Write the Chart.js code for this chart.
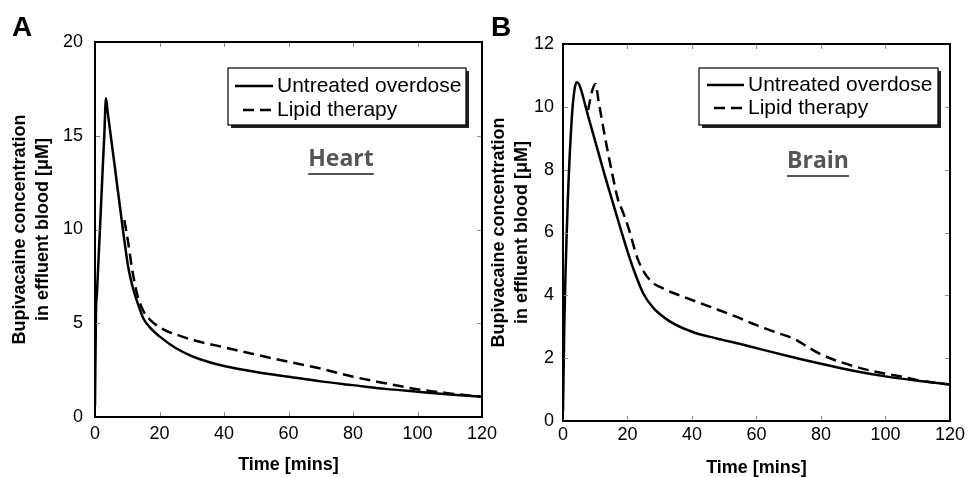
<!DOCTYPE html>
<html>
<head>
<meta charset="utf-8">
<script src="https://cdn.jsdelivr.net/npm/chart.js@4.4.0/dist/chart.umd.min.js"></script>
<style>
body { margin: 0; background: #fff; }
#wrap { position: relative; width: 968px; height: 477px; overflow: hidden; background: #fff; }
canvas { position: absolute; top: 0; }
</style>
</head>
<body>
<div id="wrap">
  <canvas id="heart" width="510" height="477" style="left:0"></canvas>
  <canvas id="brain" width="484" height="477" style="left:484px"></canvas>
</div>
<script>
// time axis ticks (mins)
var timeTicks = [0, 20, 40, 60, 80, 100, 120];
var heartYTicks = [0, 5, 10, 15, 20];
var brainYTicks = [0, 2, 4, 6, 8, 10, 12];

// Heart - untreated overdose
var heartUntreatedT = [0, 0.3, 0.6, 1.5, 2.4, 2.9, 3.4, 3.9, 6.1, 8.8, 10.3, 11.9, 14, 15, 17, 20, 25, 30, 35, 40, 50, 60, 70, 80, 90, 100, 110, 120];
var heartUntreatedY = [0.6, 5.5, 6.6, 9.9, 13.3, 15.1, 17.0, 16.3, 13.4, 9.8, 8.0, 6.8, 5.7, 5.25, 4.78, 4.3, 3.68, 3.25, 2.95, 2.72, 2.4, 2.15, 1.9, 1.7, 1.5, 1.35, 1.2, 1.08];
// Heart - lipid therapy
var heartLipidT = [9.1, 10.3, 11.4, 13, 15, 17, 19, 22, 26, 30, 40, 50, 60, 70, 80, 90, 100, 110, 120];
var heartLipidY = [10.5, 9.3, 8.0, 6.6, 5.65, 5.2, 4.9, 4.6, 4.35, 4.12, 3.72, 3.32, 2.95, 2.58, 2.15, 1.8, 1.48, 1.26, 1.08];

// Brain - untreated overdose
var brainUntreatedT = [0, 0.4, 1.45, 2.7, 3.5, 4.2, 5, 6, 7.8, 10, 13, 15.6, 18.2, 20, 21.8, 24.9, 28, 33, 40, 47.5, 55, 60, 70, 80, 90, 100, 110, 120];
var brainUntreatedY = [0.3, 3.0, 6.9, 9.6, 10.5, 10.78, 10.72, 10.4, 9.7, 8.9, 7.8, 6.9, 6.0, 5.4, 4.85, 4.06, 3.6, 3.18, 2.84, 2.63, 2.45, 2.32, 2.06, 1.82, 1.6, 1.42, 1.28, 1.16];
// Brain - lipid therapy
var brainLipidT = [7.8, 9.0, 10.1, 11, 13, 15, 17.1, 18.2, 20.2, 23.3, 26.9, 31, 37.2, 45.5, 53.7, 60, 66, 72, 76, 80, 90, 100, 104, 110, 120];
var brainLipidY = [9.9, 10.5, 10.73, 10.2, 9.05, 8.0, 7.03, 6.75, 6.18, 5.12, 4.49, 4.22, 3.96, 3.64, 3.32, 3.05, 2.82, 2.6, 2.35, 2.12, 1.75, 1.5, 1.43, 1.3, 1.16];

Chart.defaults.font.family = '"Liberation Sans", Arial, sans-serif';
Chart.defaults.color = '#000';

function pts(t, y) {
  return t.map(function(v, i) { return { x: v, y: y[i] }; });
}

function decoPlugin(o) {
  return {
    id: 'deco',
    afterDatasetsDraw: function(chart) {
      var ctx = chart.ctx, a = chart.chartArea;
      var xs = chart.scales.x, ys = chart.scales.y;
      ctx.save();
      // inward tick marks on all four sides
      ctx.strokeStyle = '#8a8a8a';
      ctx.lineWidth = 1;
      ctx.beginPath();
      xs.ticks.forEach(function(t) {
        var px = Math.round(xs.getPixelForValue(t.value)) + 0.5;
        ctx.moveTo(px, a.bottom); ctx.lineTo(px, a.bottom - 5);
        ctx.moveTo(px, a.top); ctx.lineTo(px, a.top + 5);
      });
      ys.ticks.forEach(function(t) {
        var py = Math.round(ys.getPixelForValue(t.value)) + 0.5;
        ctx.moveTo(a.left, py); ctx.lineTo(a.left + 5, py);
        ctx.moveTo(a.right, py); ctx.lineTo(a.right - 5, py);
      });
      ctx.stroke();
      // frame
      ctx.strokeStyle = '#000';
      ctx.lineWidth = 2;
      ctx.strokeRect(a.left, a.top, a.right - a.left, a.bottom - a.top);

      // legend box with shadow
      var L = o.legend;
      ctx.fillStyle = '#222';
      ctx.fillRect(L.x + 3, L.y + 3, L.w, L.h);
      ctx.fillStyle = '#fff';
      ctx.fillRect(L.x, L.y, L.w, L.h);
      ctx.strokeStyle = '#000';
      ctx.lineWidth = 1.2;
      ctx.strokeRect(L.x, L.y, L.w, L.h);
      ctx.font = '21px "Liberation Sans", Arial, sans-serif';
      ctx.textBaseline = 'middle';
      ctx.textAlign = 'left';
      chart.data.datasets.forEach(function(ds, i) {
        var y = L.rowY[i];
        ctx.strokeStyle = '#000';
        ctx.lineWidth = 2.5;
        ctx.setLineDash(ds.borderDash || []);
        ctx.beginPath();
        ctx.moveTo(L.lineX[i][0], y);
        ctx.lineTo(L.lineX[i][1], y);
        ctx.stroke();
        ctx.setLineDash([]);
        ctx.fillStyle = '#000';
        ctx.fillText(ds.label, L.textX, y);
      });

      // organ label, underlined
      ctx.font = 'bold 23px "Open Sans", Lato, sans-serif';
      ctx.fillStyle = '#555';
      ctx.textAlign = 'center';
      ctx.textBaseline = 'alphabetic';
      ctx.fillText(o.organ, o.organX, o.organY);
      var w = ctx.measureText(o.organ).width;
      ctx.fillRect(o.organX - w / 2, o.organY + 7, w, 2);

      // panel letter
      ctx.font = 'bold 28px "Liberation Sans", Arial, sans-serif';
      ctx.fillStyle = '#000';
      ctx.textAlign = 'left';
      ctx.fillText(o.letter, o.letterX, o.letterY);
      ctx.restore();
    }
  };
}

function makeChart(id, d) {
  return new Chart(document.getElementById(id), {
    type: 'line',
    data: {
      datasets: [
        {
          label: 'Untreated overdose',
          data: pts(d.uT, d.uY),
          borderColor: '#000',
          borderWidth: 2.5,
          pointRadius: 0,
          cubicInterpolationMode: 'monotone',
          fill: false
        },
        {
          label: 'Lipid therapy',
          data: pts(d.lT, d.lY),
          borderColor: '#000',
          borderWidth: 2.5,
          borderDash: [11, 6],
          pointRadius: 0,
          cubicInterpolationMode: 'monotone',
          fill: false
        }
      ]
    },
    options: {
      responsive: false,
      animation: false,
      layout: { padding: { top: d.top, right: d.right, left: 0, bottom: 0 } },
      plugins: { legend: { display: false }, tooltip: { enabled: false } },
      scales: {
        x: {
          type: 'linear',
          min: 0,
          max: 120,
          afterBuildTicks: function(s) { s.ticks = timeTicks.map(function(v) { return { value: v }; }); },
          afterFit: function(s) { s.height = d.xH; },
          grid: { display: false, drawTicks: false },
          border: { display: false },
          ticks: { font: { size: 18 }, color: '#000', padding: d.xPad, maxRotation: 0 },
          title: {
            display: true,
            text: 'Time [mins]',
            color: '#000',
            font: { size: 18, weight: 'bold', lineHeight: 1 },
            padding: { top: 0, bottom: d.xTitlePad }
          }
        },
        y: {
          min: 0,
          max: d.yMax,
          afterBuildTicks: function(s) { s.ticks = d.yTicks.map(function(v) { return { value: v }; }); },
          afterFit: function(s) { s.width = d.yW; },
          grid: { display: false, drawTicks: false },
          border: { display: false },
          ticks: { font: { size: 18 }, color: '#000', padding: d.yPad },
          title: {
            display: true,
            text: ['Bupivacaine concentration', 'in effluent blood [\u03bcM]'],
            color: '#000',
            font: { size: 18, weight: 'bold', lineHeight: 1.28 },
            padding: { top: d.yTitlePad, bottom: 0 }
          }
        }
      }
    },
    plugins: [decoPlugin(d.deco)]
  });
}

makeChart('heart', {
  uT: heartUntreatedT, uY: heartUntreatedY, lT: heartLipidT, lY: heartLipidY,
  yMax: 20, yTicks: heartYTicks,
  top: 42, right: 28, xH: 60, yW: 95, xPad: 6, yPad: 12, xTitlePad: 3, yTitlePad: 8.5,
  deco: {
    legend: { x: 228, y: 68, w: 238, h: 57, rowY: [86, 110], lineX: [[235, 273], [243, 273]], textX: 277 },
    organ: 'Heart', organX: 341, organY: 166,
    letter: 'A', letterX: 12, letterY: 36
  }
});

makeChart('brain', {
  uT: brainUntreatedT, uY: brainUntreatedY, lT: brainLipidT, lY: brainLipidY,
  yMax: 12, yTicks: brainYTicks,
  top: 44, right: 17, xH: 56, yW: 79, xPad: 3, yPad: 9, xTitlePad: 0, yTitlePad: 3.5,
  deco: {
    legend: { x: 215, y: 68, w: 239, h: 57, rowY: [85, 108], lineX: [[223, 260], [230, 260]], textX: 264 },
    organ: 'Brain', organX: 334, organY: 168,
    letter: 'B', letterX: 7, letterY: 36
  }
});
</script>
</body>
</html>
